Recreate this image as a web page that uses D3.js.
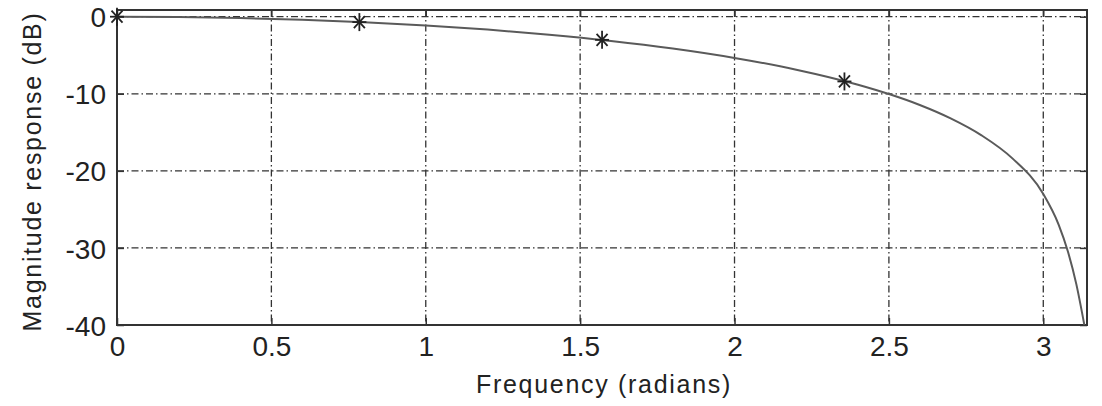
<!DOCTYPE html>
<html><head><meta charset="utf-8">
<script src="https://cdnjs.cloudflare.com/ajax/libs/d3/7.8.5/d3.min.js"></script>
<style>body{margin:0;background:#fff}svg{display:block}text{font-family:"Liberation Sans",Arial,sans-serif;fill:#222}</style>
</head><body><svg id="c" width="1102" height="406"></svg>
<script>
// Curve samples (frequency in radians, magnitude in dB)
const freq = [0, 0.2, 0.4, 0.6, 0.8, 1.0, 1.2, 1.4, 1.6, 1.8, 2.0, 2.2, 2.4, 2.5, 2.6, 2.7, 2.8, 2.9, 3.0, 3.05, 3.08, 3.107, 3.133];
const magDb = [0, -0.04, -0.17, -0.4, -0.71, -1.13, -1.67, -2.33, -3.14, -4.13, -5.35, -6.87, -8.82, -10.03, -11.45, -13.19, -15.39, -18.38, -23.0, -27.0, -30.5, -34.7, -40];
// Marked points (asterisks)
const markFreq = [0, 0.785, 1.571, 2.356];
const markDb = [0, -0.7, -3.0, -8.4];
const xTicks = [0, 0.5, 1, 1.5, 2, 2.5, 3];
const yTicks = [0, -10, -20, -30, -40];
const xTitle = "Frequency (radians)";
const yTitle = "Magnitude response (dB)";

const svg = d3.select("#c");
const L = 117, R = 1087, T = 10, B = 325;
const x = d3.scaleLinear().domain([0, Math.PI]).range([L, R]);
const y = d3.scaleLinear().domain([-40, 0.87]).range([B, T]);

// grid
const g = svg.append("g");
g.selectAll("line.gx").data(xTicks.filter(d => d > 0)).join("line")
  .attr("x1", d => x(d)).attr("x2", d => x(d)).attr("y1", T).attr("y2", B)
  .attr("stroke", "#333").attr("stroke-width", 1.3).attr("stroke-dasharray", "7,3,1.5,3");
g.selectAll("line.gy").data(yTicks.filter(d => d > -40)).join("line")
  .attr("x1", L).attr("x2", R).attr("y1", d => y(d)).attr("y2", d => y(d))
  .attr("stroke", "#333").attr("stroke-width", 1.3).attr("stroke-dasharray", "7,3,1.5,3");

// axes with inward ticks
const fmt = d => String(d);
const ax = svg.append("g").attr("transform", `translate(0,${B})`)
  .call(d3.axisBottom(x).tickValues(xTicks).tickSize(-7).tickPadding(11).tickFormat(fmt));
const ax2 = svg.append("g").attr("transform", `translate(0,${T})`)
  .call(d3.axisTop(x).tickValues(xTicks).tickSize(-7).tickFormat(""));
const ay = svg.append("g").attr("transform", `translate(${L},0)`)
  .call(d3.axisLeft(y).tickValues(yTicks).tickSize(-7).tickPadding(11).tickFormat(fmt));
const ay2 = svg.append("g").attr("transform", `translate(${R},0)`)
  .call(d3.axisRight(y).tickValues(yTicks).tickSize(-7).tickFormat(""));
[ax, ax2, ay, ay2].forEach(a => {
  a.select(".domain").remove();
  a.selectAll(".tick line").attr("stroke", "#333").attr("stroke-width", 1.5);
  a.selectAll("text").attr("font-size", 28).attr("fill", "#222").attr("font-family", "Liberation Sans, Arial, sans-serif");
});
ay.selectAll("text").attr("dy", "0.36em");
ax.selectAll("text").attr("dy", "0.71em");

// frame
svg.append("rect").attr("x", L).attr("y", T).attr("width", R - L).attr("height", B - T)
  .attr("fill", "none").attr("stroke", "#333").attr("stroke-width", 2);

// curve
const pts = freq.map((f, i) => [f, magDb[i]]);
svg.append("path").datum(pts)
  .attr("d", d3.line().x(d => x(d[0])).y(d => y(d[1])).curve(d3.curveMonotoneX))
  .attr("fill", "none").attr("stroke", "#5a5a5a").attr("stroke-width", 2);

// asterisks
const star = svg.append("g");
markFreq.forEach((f, i) => {
  const cx = x(f), cy = y(markDb[i]);
  const s = star.append("g").attr("transform", `translate(${cx},${cy})`);
  [[0, 9], [7, 0], [5.5, 6], [-5.5, 6]].forEach(([dx, dy]) => {
    s.append("line").attr("x1", -dx).attr("y1", -dy).attr("x2", dx).attr("y2", dy)
      .attr("stroke", "#222").attr("stroke-width", 1.8);
  });
});

// titles
svg.append("text").attr("x", (L + R) / 2 + 2).attr("y", 393).attr("text-anchor", "middle")
  .attr("font-size", 25).attr("letter-spacing", 1.7).text(xTitle);
svg.append("text").attr("transform", `translate(41,${(T + B) / 2 + 4}) rotate(-90)`)
  .attr("text-anchor", "middle").attr("font-size", 25).attr("letter-spacing", 1.7).text(yTitle);
</script></body></html>
